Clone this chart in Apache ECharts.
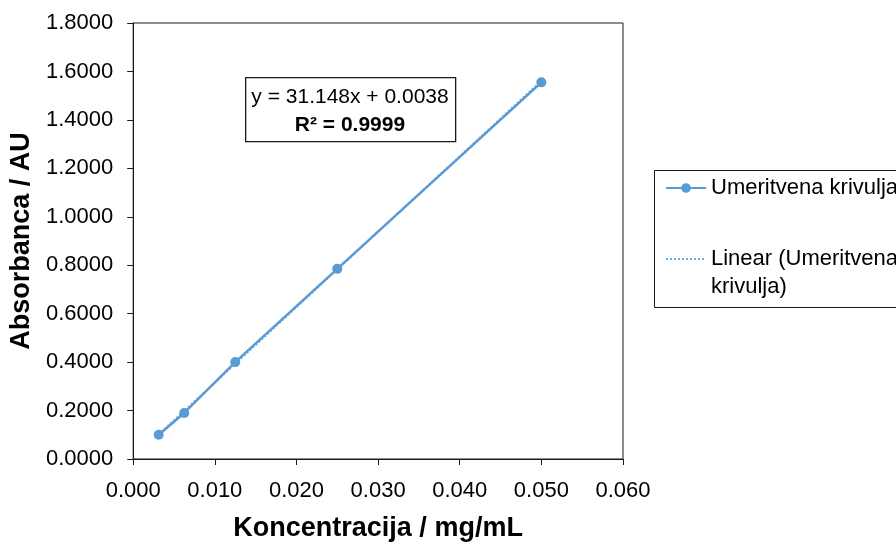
<!DOCTYPE html>
<html>
<head>
<meta charset="utf-8">
<script src="https://cdn.jsdelivr.net/npm/echarts@6/dist/echarts.min.js"></script>
<style>
html,body{margin:0;padding:0;background:#fff;}
#c{width:896px;height:547px;}
</style>
</head>
<body>
<div id="c"></div>
<script>
// Data
const concentrations = [0.003125, 0.00625, 0.0125, 0.025, 0.05];
const absorbances = [0.100, 0.190, 0.400, 0.785, 1.555];
const seriesName = 'Umeritvena krivulja';
const trendName = 'Linear (Umeritvena krivulja)';
const trendLegendText = '\nLinear (Umeritvena\nkrivulja)';
const trendSlope = 31.148;
const trendIntercept = 0.0038;
const equationText = 'y = 31.148x + 0.0038';
const r2Text = 'R² = 0.9999';
const xTitle = 'Koncentracija / mg/mL';
const yTitle = 'Absorbanca / AU';

const FONT = 'Liberation Sans';
const BLUE = '#5B9BD5';

const seriesData = concentrations.map((x, i) => [x, absorbances[i]]);
const xMin = Math.min(...concentrations), xMax = Math.max(...concentrations);
const trendData = [[xMin, trendSlope * xMin + trendIntercept], [xMax, trendSlope * xMax + trendIntercept]];

const chart = echarts.init(document.getElementById('c'));
chart.setOption({
  animation: false,
  backgroundColor: '#fff',
  textStyle: { fontFamily: FONT },
  grid: { left: 133, right: 273, top: 23, bottom: 83, show: true, borderColor: '#1a1a1a', borderWidth: 1 },
  xAxis: {
    type: 'value', min: 0, max: 0.06, interval: 0.01,
    name: xTitle, nameLocation: 'middle', nameGap: 56,
    nameTextStyle: { fontSize: 27, fontWeight: 'bold', color: '#000', fontFamily: FONT },
    axisLine: { show: true, onZero: false, lineStyle: { color: '#1a1a1a', width: 1 } },
    axisTick: { show: true, inside: false, length: 6, lineStyle: { color: '#1a1a1a' } },
    axisLabel: { fontSize: 22, color: '#000', margin: 21, formatter: v => v.toFixed(3) },
    splitLine: { show: false }
  },
  yAxis: {
    type: 'value', min: 0, max: 1.8, interval: 0.2,
    name: yTitle, nameLocation: 'middle', nameGap: 96,
    nameTextStyle: { fontSize: 27, fontWeight: 'bold', color: '#000', fontFamily: FONT },
    axisLine: { show: true, onZero: false, lineStyle: { color: '#1a1a1a', width: 1 } },
    axisTick: { show: true, inside: false, length: 6, lineStyle: { color: '#1a1a1a' } },
    axisLabel: { fontSize: 22, color: '#000', margin: 20, formatter: v => v.toFixed(4) },
    splitLine: { show: false }
  },
  legend: [{
    data: [seriesName],
    left: 660, top: 172,
    itemWidth: 40, itemHeight: 12,
    textStyle: { fontSize: 22, color: '#000', fontFamily: FONT }
  }, {
    data: [trendName],
    left: 660, top: 212,
    itemWidth: 40, itemHeight: 12,
    itemStyle: { opacity: 0 },
    formatter: () => trendLegendText,
    textStyle: { fontSize: 22, color: '#000', fontFamily: FONT, lineHeight: 28 }
  }],
  graphic: [
    { type: 'rect', left: 652, top: 168, shape: { width: 300, height: 137 }, style: { fill: 'none', stroke: '#1a1a1a', lineWidth: 1 }, z: 100, silent: true },
    { type: 'rect', left: 245, top: 77, shape: { width: 210, height: 64 }, style: { fill: '#fff', stroke: '#1a1a1a', lineWidth: 1.3 }, z: 100 },
    { type: 'text', x: 350, y: 97, style: { text: equationText, font: '21px "' + FONT + '"', fill: '#000', textAlign: 'center', textVerticalAlign: 'middle' }, z: 101 },
    { type: 'text', x: 350, y: 125, style: { text: r2Text, font: 'bold 21px "' + FONT + '"', fill: '#000', textAlign: 'center', textVerticalAlign: 'middle' }, z: 101 }
  ],
  series: [{
    name: seriesName, type: 'line', data: seriesData,
    symbol: 'circle', symbolSize: 10,
    itemStyle: { color: BLUE },
    lineStyle: { color: BLUE, width: 2.5 },
    z: 3
  }, {
    name: trendName, type: 'line', data: trendData,
    symbol: 'none', showSymbol: false,
    itemStyle: { color: '#6aaae0' },
    lineStyle: { color: '#6aaae0', width: 2, type: [2, 2] },
    z: 2
  }]
});
</script>
</body>
</html>
